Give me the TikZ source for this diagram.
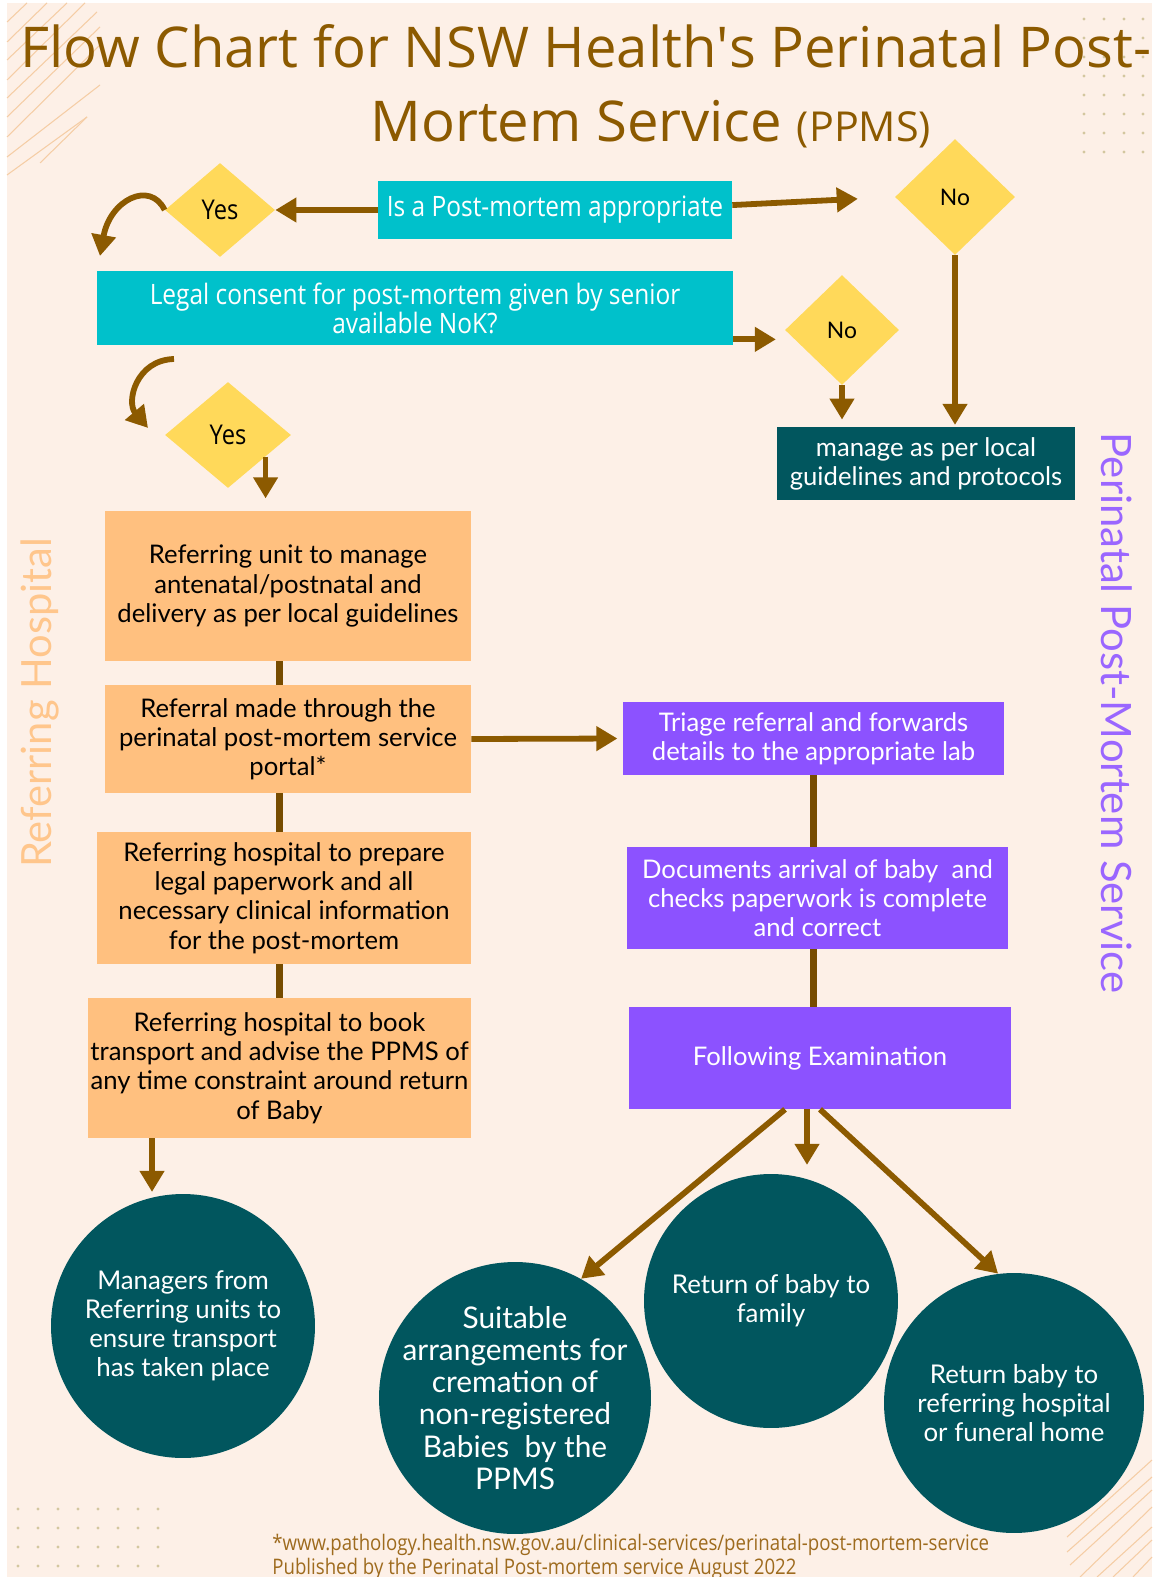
\documentclass[tikz,border=0pt]{standalone}
\usepackage{fontspec}
\setmainfont{Lato}
\newfontfamily\titlefont{Open Sans}
\newfontfamily\condfont[FakeStretch=0.87]{Open Sans}
\usetikzlibrary{arrows.meta,shapes.geometric,positioning}

\definecolor{cream}{HTML}{FDF0E7}
\definecolor{arrowbrown}{HTML}{8C5A00}
\definecolor{footbrown}{HTML}{9E6B1E}
\definecolor{aqua}{HTML}{00C1CB}
\definecolor{sun}{HTML}{FFD95A}
\definecolor{deepteal}{HTML}{01565E}
\definecolor{peach}{HTML}{FFC07F}
\definecolor{violet}{HTML}{8C52FF}
\definecolor{dotcol}{HTML}{D3C79F}
\definecolor{stripecol}{HTML}{F5CDA5}
\definecolor{sidepeach}{HTML}{FFC68C}
\definecolor{sideviolet}{HTML}{9A66FF}

\newcommand{\boxfont}{\fontsize{14.6}{16.6}\selectfont}

\begin{document}
\begin{tikzpicture}[x=0.02cm,y=-0.02cm,>={Triangle[length=12pt,width=13.5pt]},
        every node/.style={align=center,inner sep=0pt},
        cyan box/.style={rectangle,fill=aqua,text=white,font=\condfont\fontsize{16}{16.5}\selectfont},
        orange box/.style={rectangle,fill=peach,text=black,font=\boxfont},
        purple box/.style={rectangle,fill=violet,text=white,font=\boxfont},
        teal circle/.style={circle,fill=deepteal,text=white,inner sep=-30pt,font=\fontsize{14.7}{16.6}\selectfont},
        choice/.style={diamond,fill=sun,text=black},
        flow/.style={->,draw=arrowbrown,line width=3.3pt},
        link/.style={draw=arrowbrown!85!black,line width=3.6pt},
        stripe/.style={draw=stripecol,line width=0.6pt}]

% background
\fill[white] (0,0) rectangle (1152,1577);
\fill[cream] (7,3) rectangle (1152,1577);
\useasboundingbox (0,0) rectangle (1152,1577);

% decorations
\foreach \a/\b/\c/\d in {7/22/27/3, 7/42/47/3, 7/60/67/3, 7/80/85/3, 7/98/97/12,
        7/117/100/27, 7/137/102/43, 7/157/100/85, 7/175/87/117, 40/163/87/117}
    \draw[stripe] (\a,\b) -- (\c,\d);
\foreach \a/\b/\c/\d in {1067/1537/1152/1460, 1067/1552/1152/1477, 1070/1565/1152/1490,
        1080/1577/1152/1507, 1097/1577/1152/1527, 1113/1577/1152/1540, 1133/1577/1152/1557}
    \draw[stripe] (\a,\b) -- (\c,\d);
\foreach \x in {1084,1104,1124,1143}
    \foreach \y in {19,38,57,76,95,114,133,152}
        \fill[dotcol] (\x,\y) circle (1.6);
\foreach \x in {18,38,...,158}
    \foreach \y in {1509,1528,1547,1566}
        \fill[dotcol] (\x,\y) circle (1.6);

% title
\node[anchor=base west,text=arrowbrown,font=\titlefont\fontsize{32}{38}\selectfont] (title) at (20,68)
    {Flow Chart for NSW Health\textquotesingle s Perinatal Post-};
\node[anchor=base west,text=arrowbrown,font=\titlefont\fontsize{32}{38}\selectfont] (title2) at (370,142)
    {Mortem Service {\fontsize{23.5}{26}\selectfont (PPMS)}};

% side labels
\node[rotate=90,text=sidepeach,font=\fontsize{23.7}{26}\selectfont] (refhosp) at (40,703) {Referring Hospital};
\node[rotate=-90,text=sideviolet,font=\fontsize{23.8}{26}\selectfont] (ppmsside) at (1117,713) {Perinatal Post-Mortem Service};

% questions
\node[cyan box,minimum width=7.08cm,minimum height=1.16cm] (ask) at (555,210) {Is a Post-mortem appropriate};
\node[cyan box,minimum width=12.72cm,minimum height=1.48cm] (consent) at (415,308)
    {Legal consent for post-mortem given by senior\\available NoK?};
\node[choice,minimum width=2.2cm,minimum height=1.88cm,font=\condfont\fontsize{15.5}{18}\selectfont] (yes1) at (220,210) {Yes};
\node[choice,minimum width=2.52cm,minimum height=2.12cm,font=\condfont\fontsize{15.5}{18}\selectfont] (yes2) at (228,435) {Yes};
\node[choice,minimum width=2.4cm,minimum height=2.32cm,font=\fontsize{13}{15}\selectfont] (no1) at (955,197) {No};
\node[choice,minimum width=2.28cm,minimum height=2.2cm,font=\fontsize{13}{15}\selectfont] (no2) at (842,330) {No};
\node[rectangle,fill=deepteal,text=white,font=\boxfont,minimum width=5.96cm,minimum height=1.46cm] (local) at (926,463.5)
    {manage as per local\\guidelines and protocols};

% referring hospital
\node[orange box,minimum width=7.32cm,minimum height=3cm] (orange1) at (288,586)
    {Referring unit to manage\\antenatal/postnatal and\\delivery as per local guidelines};
\node[orange box,minimum width=7.32cm,minimum height=2.16cm] (orange2) at (288,739)
    {Referral made through the\\perinatal post-mortem service\\portal*};
\node[orange box,minimum width=7.48cm,minimum height=2.64cm] (orange3) at (284,898)
    {Referring hospital to prepare\\legal paperwork and all\\necessary clinical information\\for the post-mortem};
\node[orange box,minimum width=7.66cm,minimum height=2.8cm] (orange4) at (279.5,1068)
    {Referring hospital to book\\transport and advise the PPMS of\\any time constraint around return\\of Baby};
\node[teal circle,minimum size=5.28cm] (managers) at (183,1326)
    {Managers from\\Referring units to\\ensure transport\\has taken place};

% post-mortem service
\node[purple box,minimum width=7.62cm,minimum height=1.46cm] (triage) at (813.5,738.5)
    {Triage referral and forwards\\details to the appropriate lab};
\node[purple box,minimum width=7.62cm,minimum height=2.04cm] (arrival) at (817.5,898)
    {Documents arrival of baby\ \ and\\checks paperwork is complete\\and correct};
\node[purple box,minimum width=7.64cm,minimum height=2.04cm] (exam) at (820,1058) {Following Examination};
\node[teal circle,minimum size=5.44cm,font=\fontsize{17}{18.3}\selectfont] (cremation) at (515,1398)
    {Suitable\\arrangements for\\cremation of\\non-registered\\Babies\ \ by the\\PPMS};
\node[teal circle,minimum size=5.08cm] (family) at (771,1301) {Return of baby to\\family};
\node[teal circle,minimum size=5.2cm] (returnhosp) at (1014,1403)
    {Return baby to\\referring hospital\\or funeral home};

% footnote
\node[anchor=base west,text=footbrown,font=\condfont\fontsize{12.2}{14}\selectfont] (web) at (272,1550)
    {*www.pathology.health.nsw.gov.au/clinical-services/perinatal-post-mortem-service};
\node[anchor=base west,text=footbrown,font=\condfont\fontsize{12.2}{14}\selectfont] (published) at (272,1574)
    {Published by the Perinatal Post-mortem service August 2022};

% connectors
\coordinate (turn1) at (100,256);
\coordinate (turn2 start) at (174,359);
\coordinate (turn2) at (148,428);
\coordinate (ask out) at ([yshift=2.8pt]ask.east);
\coordinate (consent out) at ([yshift=3.4pt]consent.south east);
\coordinate (book out) at ([xshift=-2.55cm]orange4.south);
\coordinate (exam down) at ([xshift=-0.26cm]exam.south);

\draw[flow] (ask.west) -- (yes1.east);
\draw[flow,shorten >=21pt] (ask out) -- (no1.west);
\draw[flow,shorten >=5pt] (consent out) -- (consent out -| no2.west);
\draw[flow,shorten >=4pt] (no2.south) -- (no2.south |- local.north);
\draw[flow,shorten >=1pt] (no1.south) -- (no1.south |- local.north);
\draw[flow] (yes1.west) .. controls (150,180) and (110,200) .. (turn1);
\draw[flow] (turn2 start) .. controls (136,360) and (126,402) .. (turn2);
\draw[flow,shorten >=7pt] (yes2.-30) -- (yes2.-30 |- orange1.north);

\foreach \a/\b in {orange1/orange2, orange2/orange3, orange3/orange4}
    \draw[link] (\a.south -| orange4.north) -- (\b.north -| orange4.north);
\foreach \a/\b in {triage/arrival, arrival/exam}
    \draw[link] (\a.south -| triage.south) -- (\b.north -| triage.south);

\draw[flow,shorten >=3pt] (orange2.east) -- (triage.west);
\draw[flow,shorten >=1pt] (book out) -- (book out |- managers.north);
\draw[flow] ([xshift=-0.7cm]exam.south) -- (cremation.61.6);
\draw[flow,shorten >=5pt] (exam down) -- (exam down |- family.north);
\draw[flow] (exam.south) -- (returnhosp.97.6);

\end{tikzpicture}
\end{document}
